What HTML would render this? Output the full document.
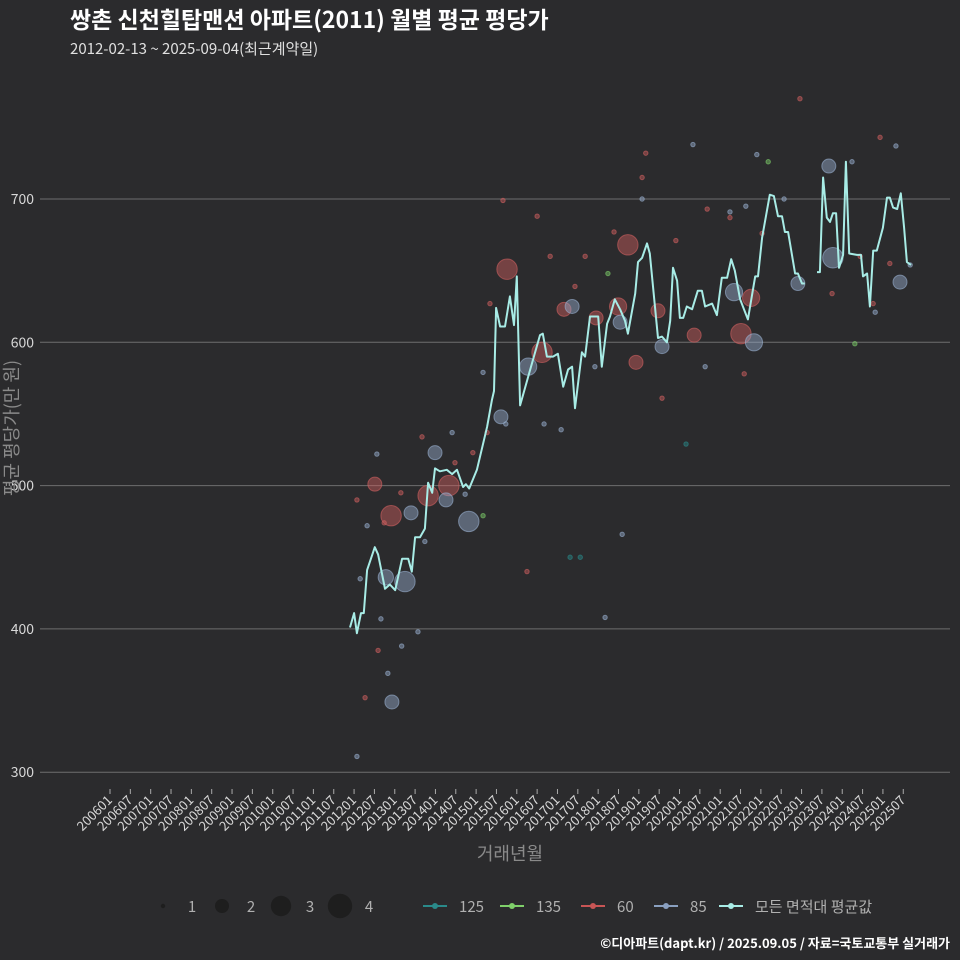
<!DOCTYPE html>
<html><head><meta charset="utf-8"><style>
html,body{margin:0;padding:0;background:#2b2b2d;}
svg{display:block;font-family:"Noto Sans CJK KR","Liberation Sans",sans-serif;}
</style></head><body>
<svg id="chart" width="960" height="960" viewBox="0 0 960 960">
<rect width="960" height="960" fill="#2b2b2d"/>
<text x="70" y="28" fill="#ffffff" font-size="23" font-weight="bold">쌍촌 신천힐탑맨션 아파트(2011) 월별 평균 평당가</text>
<text x="70" y="54" fill="#e0e0e0" font-size="15">2012-02-13 ~ 2025-09-04(최근계약일)</text>
<g id="grid"></g>
<g id="xaxis"></g>
<g id="points"></g>
<g id="line"></g>
<text x="18" y="428" fill="#8a8a8a" font-size="18" text-anchor="middle" transform="rotate(-90 18 428)">평균 평당가(만 원)</text>
<text x="510" y="860" fill="#8a8a8a" font-size="18" text-anchor="middle">거래년월</text>
<g id="legend"></g>
<text x="950" y="948" fill="#ffffff" font-size="13" font-weight="bold" text-anchor="end">©디아파트(dapt.kr) / 2025.09.05 / 자료=국토교통부 실거래가</text>
</svg>
<script>
const yTicks = [300, 400, 500, 600, 700];
const lineYears = [2011.90,2012.00,2012.07,2012.17,2012.24,2012.32,2012.51,2012.59,2012.76,2012.88,2013.01,2013.18,2013.33,2013.42,2013.50,2013.62,2013.74,2013.82,2013.92,2013.99,2014.11,2014.28,2014.41,2014.53,2014.68,2014.75,2014.83,2015.02,2015.27,2015.39,2015.44,2015.49,2015.59,2015.71,2015.83,2015.93,2016.00,2016.08,2016.32,2016.57,2016.64,2016.74,2016.89,2017.01,2017.14,2017.26,2017.36,2017.43,2017.60,2017.68,2017.80,2018.00,2018.09,2018.22,2018.29,2018.41,2018.54,2018.66,2018.73,2018.91,2018.98,2019.08,2019.20,2019.27,2019.47,2019.57,2019.69,2019.77,2019.84,2019.94,2020.01,2020.09,2020.18,2020.31,2020.45,2020.55,2020.63,2020.80,2020.92,2021.04,2021.17,2021.27,2021.36,2021.49,2021.68,2021.86,2021.93,2022.03,2022.22,2022.32,2022.42,2022.52,2022.59,2022.67,2022.84,2022.91,2023.01,2023.08,null,2023.38,2023.45,2023.53,2023.62,2023.70,2023.77,2023.85,2023.92,2024.02,2024.09,2024.17,2024.36,2024.46,2024.51,2024.61,2024.68,2024.76,2024.85,2025.00,2025.10,2025.17,2025.25,2025.35,2025.44,2025.52,2025.59,2025.69];
const lineValues = [401,411,397,411,411,441,457,452,428,431,427,449,449,440,464,464,470,502,495,512,510,511,508,511,499,501,498,511,541,560,566,624,611,611,632,612,646,556,580,605,606,590,590,592,569,581,583,554,593,590,618,618,583,613,618,630,623,615,606,634,656,659,669,662,603,604,600,615,652,643,617,617,625,623,636,636,625,627,619,645,645,658,650,630,616,646,646,673,703,702,688,688,677,677,648,648,641,641,null,649,649,715,687,684,690,690,652,661,726,662,661,661,646,648,625,664,664,680,701,701,694,693,704,680,656,654];
const ptYears = [2012.51,2012.91,2013.82,2014.33,2015.76,2018.73,2017.16,2018.49,2017.95,2019.47,2018.93,2020.36,2021.51,2021.76,2016.62,
2012.07,2012.27,2012.59,2012.74,2013.15,2013.67,2014.48,2014.92,2015.27,2015.34,2015.66,2016.25,2016.50,2016.82,2017.43,2017.68,2018.39,2019.08,2019.17,2019.57,2019.91,2020.68,2021.24,2021.59,2022.03,2022.96,2023.75,2024.44,2024.76,2024.93,2025.17,
2012.93,2013.25,2012.78,2013.40,2013.99,2014.26,2014.82,2015.61,2016.28,2017.36,2018.54,2019.57,2021.34,2021.83,2022.91,2023.67,2023.77,2025.42,
2012.07,2012.15,2012.32,2012.56,2012.66,2012.83,2013.17,2013.57,2013.74,2014.41,2014.73,2015.17,2015.73,2016.67,2017.09,2017.92,2018.17,2018.59,2019.08,2020.33,2020.63,2021.24,2021.63,2021.90,2022.57,2024.24,2024.81,2025.32,2025.67,
2015.17,2018.24,2022.18,2024.31,
2017.31,2017.56,2020.16];
const ptValues = [501,479,493,500,651,668,623,625,617,622,586,605,606,631,593,
490,352,385,474,495,534,516,523,537,627,699,440,688,660,639,660,677,715,732,561,671,693,687,578,676,770,634,660,627,743,655,
349,433,436,481,523,490,475,548,583,625,614,597,635,600,641,723,659,642,
311,435,472,522,407,369,388,398,461,537,494,579,543,543,539,583,408,466,700,738,583,691,695,731,700,726,621,737,654,
479,648,726,599,
450,450,529];
const ptSizes = [2,3,3,3,3,3,2,2.5,2,2,2,2,3,2.5,3,
1,1,1,1,1,1,1,1,1,1,1,1,1,1,1,1,1,1,1,1,1,1,1,1,1,1,1,1,1,1,1,
2,3,2.2,2,2,2,3,2,2.5,2,2,2,2.5,2.5,2,2,3,2,
1,1,1,1,1,1,1,1,1,1,1,1,1,1,1,1,1,1,1,1,1,1,1,1,1,1,1,1,1,
1,1,1,1,
1,1,1];
const ptTypes = [].concat(Array(15).fill('60'),Array(31).fill('60'),Array(18).fill('85'),Array(29).fill('85'),Array(4).fill('135'),Array(3).fill('125'));
const legendSizes = ['1','2','3','4'];
const legendSeries = ['125','135','60','85','모든 면적대 평균값'];

const NS='http://www.w3.org/2000/svg';
const xS = yr => 110 + (yr-2006)*40.68;
const yS = v => 199 + (700-v)*1.433;
const rS = s => s<=1 ? 2.2 : s<=2 ? 2.2+(s-1)*4.8 : s<=3 ? 7+(s-2)*3.2 : 10.2+(s-3)*2;
const colors = {'125':'#2a8a8a','135':'#7fd06a','60':'#d06060','85':'#9ab0d0'};
function mk(tag, attrs, parent){const e=document.createElementNS(NS,tag);for(const k in attrs)e.setAttribute(k,attrs[k]);parent.appendChild(e);return e;}

const grid=document.getElementById('grid');
yTicks.forEach(t=>{
  const l=mk('line',{x1:40,x2:950,y1:yS(t),y2:yS(t),stroke:'#6e6e6e','stroke-width':1},grid);
  
  
  const tx=mk('text',{x:34,y:yS(t)+5,fill:'#d8d8d8','font-size':14,'text-anchor':'end'},grid);
  tx.textContent=t;
  
  
});
const xa=document.getElementById('xaxis');
for(let y=2006;y<=2025;y++){for(const mo of [1,7]){
  const x=xS(y+(mo-1)/12);
  const tk=mk('line',{x1:x,x2:x,y1:789,y2:794,stroke:'#aaa','stroke-width':1},xa);
  
  
  const tx=mk('text',{x:x+3,y:801,fill:'#d8d8d8','font-size':13,'text-anchor':'end',transform:`rotate(-45 ${x+3} 801)`},xa);
  tx.textContent=y+(mo===1?'01':'07');
  
  
}}
const pg=document.getElementById('points');
ptYears.forEach((yr,i)=>{
  const c=mk('circle',{cx:xS(yr),cy:yS(ptValues[i]),r:rS(ptSizes[i]),fill:colors[ptTypes[i]],'fill-opacity':0.45,stroke:colors[ptTypes[i]],'stroke-opacity':0.6,'stroke-width':1},pg);
  
  
});
const lg=document.getElementById('line');
let d='',pen=false;
lineYears.forEach((yr,i)=>{
  if(yr===null||lineValues[i]===null){pen=false;return;}
  d+=(pen?'L':'M')+xS(yr).toFixed(1)+' '+yS(lineValues[i]).toFixed(1);pen=true;
});
const p=mk('path',{d:d,fill:'none',stroke:'#a8ece6','stroke-width':2,'stroke-linejoin':'round'},lg);



const leg=document.getElementById('legend');
const sx=[163,222,281,340];
legendSizes.forEach((s,i)=>{
  const c=mk('circle',{cx:sx[i],cy:906,r:rS(+s),fill:'#1e1e1e'},leg);
  
  
  const t=mk('text',{x:sx[i]+29,y:912,fill:'#b0b0b0','font-size':15,'text-anchor':'middle'},leg);
  t.textContent=s;
  
  
});
const lx=[435,512,593,666,731];
const lc=['#2a8a8a','#7fd06a','#c85555','#8aa0c0','#a8ece6'];
legendSeries.forEach((s,i)=>{
  const l=mk('line',{x1:lx[i]-12,x2:lx[i]+12,y1:906,y2:906,stroke:lc[i],'stroke-width':2},leg);
  
  
  const c=mk('circle',{cx:lx[i],cy:906,r:3,fill:lc[i]},leg);
  
  
  const t=mk('text',{x:lx[i]+24,y:912,fill:'#b0b0b0','font-size':15},leg);
  t.textContent=s;
  
  
});
</script>
</body></html>
